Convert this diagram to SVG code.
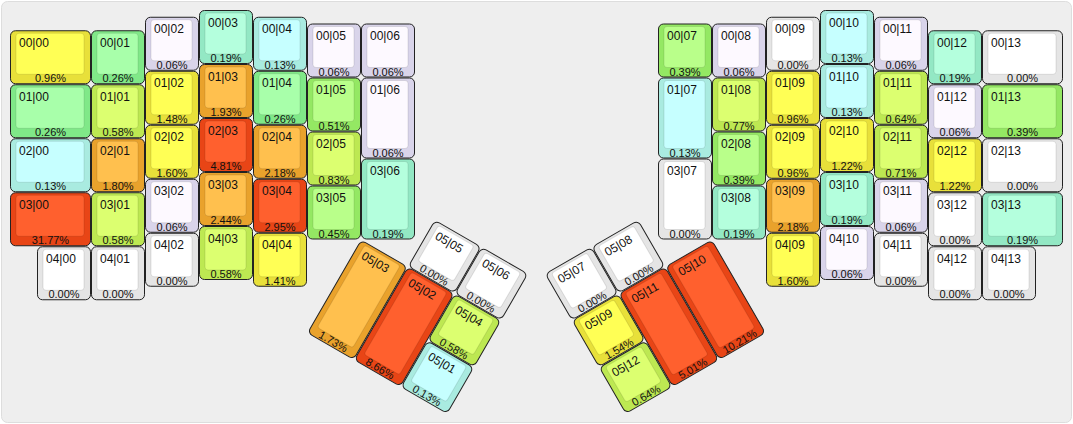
<svg xmlns="http://www.w3.org/2000/svg" width="1073" height="424" viewBox="0 0 1073 424">
<style>
text{font-family:"Liberation Sans",Arial,sans-serif;fill:#111}
.t{font-size:12px}
.b{font-size:11px;text-anchor:middle}
.o{stroke:#222;stroke-width:1}
.i{stroke:#000;stroke-opacity:0.1;stroke-width:1}
.w .o{fill:#e5e5e5}.w .i{fill:#ffffff}
.lv .o{fill:#d9d4ea}.lv .i{fill:#fdf9ff}
.cy .o{fill:#a9ebe0}.cy .i{fill:#c6ffff}
.mt .o{fill:#93e8c4}.mt .i{fill:#b4ffdd}
.gr .o{fill:#80e888}.gr .i{fill:#a8ffaa}
.lg .o{fill:#94e863}.lg .i{fill:#b9ff8a}
.yg .o{fill:#bde852}.yg .i{fill:#dcff70}
.ye .o{fill:#e8e03a}.ye .i{fill:#ffff55}
.or .o{fill:#e9a22c}.or .i{fill:#ffc04e}
.rd .o{fill:#e84516}.rd .i{fill:#ff602e}
</style>
<rect x="1.5" y="1.5" width="1070" height="421" rx="6" fill="#eeeeee" stroke="#dddddd"/>
<g id="left-main">
<g id="k00_00" class="ye" transform="translate(10,30.25)"><rect class="o" x="0.5" y="0.5" width="80" height="53" rx="5"/><rect class="i" x="6" y="3" width="68" height="41" rx="3"/><text class="t" x="9" y="16.5">00|00</text><text class="b" x="40.5" y="52">0.96%</text></g>
<g id="k01_00" class="gr" transform="translate(10,84.25)"><rect class="o" x="0.5" y="0.5" width="80" height="53" rx="5"/><rect class="i" x="6" y="3" width="68" height="41" rx="3"/><text class="t" x="9" y="16.5">01|00</text><text class="b" x="40.5" y="52">0.26%</text></g>
<g id="k02_00" class="cy" transform="translate(10,138.25)"><rect class="o" x="0.5" y="0.5" width="80" height="53" rx="5"/><rect class="i" x="6" y="3" width="68" height="41" rx="3"/><text class="t" x="9" y="16.5">02|00</text><text class="b" x="40.5" y="52">0.13%</text></g>
<g id="k03_00" class="rd" transform="translate(10,192.25)"><rect class="o" x="0.5" y="0.5" width="80" height="53" rx="5"/><rect class="i" x="6" y="3" width="68" height="41" rx="3"/><text class="t" x="9" y="16.5">03|00</text><text class="b" x="40.5" y="52">31.77%</text></g>
<g id="k04_00" class="w" transform="translate(37,246.25)"><rect class="o" x="0.5" y="0.5" width="53" height="53" rx="5"/><rect class="i" x="6" y="3" width="41" height="41" rx="3"/><text class="t" x="9" y="16.5">04|00</text><text class="b" x="27" y="52">0.00%</text></g>
<g id="k00_01" class="gr" transform="translate(91,30.25)"><rect class="o" x="0.5" y="0.5" width="53" height="53" rx="5"/><rect class="i" x="6" y="3" width="41" height="41" rx="3"/><text class="t" x="9" y="16.5">00|01</text><text class="b" x="27" y="52">0.26%</text></g>
<g id="k01_01" class="yg" transform="translate(91,84.25)"><rect class="o" x="0.5" y="0.5" width="53" height="53" rx="5"/><rect class="i" x="6" y="3" width="41" height="41" rx="3"/><text class="t" x="9" y="16.5">01|01</text><text class="b" x="27" y="52">0.58%</text></g>
<g id="k02_01" class="or" transform="translate(91,138.25)"><rect class="o" x="0.5" y="0.5" width="53" height="53" rx="5"/><rect class="i" x="6" y="3" width="41" height="41" rx="3"/><text class="t" x="9" y="16.5">02|01</text><text class="b" x="27" y="52">1.80%</text></g>
<g id="k03_01" class="yg" transform="translate(91,192.25)"><rect class="o" x="0.5" y="0.5" width="53" height="53" rx="5"/><rect class="i" x="6" y="3" width="41" height="41" rx="3"/><text class="t" x="9" y="16.5">03|01</text><text class="b" x="27" y="52">0.58%</text></g>
<g id="k04_01" class="w" transform="translate(91,246.25)"><rect class="o" x="0.5" y="0.5" width="53" height="53" rx="5"/><rect class="i" x="6" y="3" width="41" height="41" rx="3"/><text class="t" x="9" y="16.5">04|01</text><text class="b" x="27" y="52">0.00%</text></g>
<g id="k00_02" class="lv" transform="translate(145,16.75)"><rect class="o" x="0.5" y="0.5" width="53" height="53" rx="5"/><rect class="i" x="6" y="3" width="41" height="41" rx="3"/><text class="t" x="9" y="16.5">00|02</text><text class="b" x="27" y="52">0.06%</text></g>
<g id="k01_02" class="ye" transform="translate(145,70.75)"><rect class="o" x="0.5" y="0.5" width="53" height="53" rx="5"/><rect class="i" x="6" y="3" width="41" height="41" rx="3"/><text class="t" x="9" y="16.5">01|02</text><text class="b" x="27" y="52">1.48%</text></g>
<g id="k02_02" class="ye" transform="translate(145,124.75)"><rect class="o" x="0.5" y="0.5" width="53" height="53" rx="5"/><rect class="i" x="6" y="3" width="41" height="41" rx="3"/><text class="t" x="9" y="16.5">02|02</text><text class="b" x="27" y="52">1.60%</text></g>
<g id="k03_02" class="lv" transform="translate(145,178.75)"><rect class="o" x="0.5" y="0.5" width="53" height="53" rx="5"/><rect class="i" x="6" y="3" width="41" height="41" rx="3"/><text class="t" x="9" y="16.5">03|02</text><text class="b" x="27" y="52">0.06%</text></g>
<g id="k04_02" class="w" transform="translate(145,232.75)"><rect class="o" x="0.5" y="0.5" width="53" height="53" rx="5"/><rect class="i" x="6" y="3" width="41" height="41" rx="3"/><text class="t" x="9" y="16.5">04|02</text><text class="b" x="27" y="52">0.00%</text></g>
<g id="k00_03" class="mt" transform="translate(199,10)"><rect class="o" x="0.5" y="0.5" width="53" height="53" rx="5"/><rect class="i" x="6" y="3" width="41" height="41" rx="3"/><text class="t" x="9" y="16.5">00|03</text><text class="b" x="27" y="52">0.19%</text></g>
<g id="k01_03" class="or" transform="translate(199,64)"><rect class="o" x="0.5" y="0.5" width="53" height="53" rx="5"/><rect class="i" x="6" y="3" width="41" height="41" rx="3"/><text class="t" x="9" y="16.5">01|03</text><text class="b" x="27" y="52">1.93%</text></g>
<g id="k02_03" class="rd" transform="translate(199,118)"><rect class="o" x="0.5" y="0.5" width="53" height="53" rx="5"/><rect class="i" x="6" y="3" width="41" height="41" rx="3"/><text class="t" x="9" y="16.5">02|03</text><text class="b" x="27" y="52">4.81%</text></g>
<g id="k03_03" class="or" transform="translate(199,172)"><rect class="o" x="0.5" y="0.5" width="53" height="53" rx="5"/><rect class="i" x="6" y="3" width="41" height="41" rx="3"/><text class="t" x="9" y="16.5">03|03</text><text class="b" x="27" y="52">2.44%</text></g>
<g id="k04_03" class="yg" transform="translate(199,226)"><rect class="o" x="0.5" y="0.5" width="53" height="53" rx="5"/><rect class="i" x="6" y="3" width="41" height="41" rx="3"/><text class="t" x="9" y="16.5">04|03</text><text class="b" x="27" y="52">0.58%</text></g>
<g id="k00_04" class="cy" transform="translate(253,16.75)"><rect class="o" x="0.5" y="0.5" width="53" height="53" rx="5"/><rect class="i" x="6" y="3" width="41" height="41" rx="3"/><text class="t" x="9" y="16.5">00|04</text><text class="b" x="27" y="52">0.13%</text></g>
<g id="k01_04" class="gr" transform="translate(253,70.75)"><rect class="o" x="0.5" y="0.5" width="53" height="53" rx="5"/><rect class="i" x="6" y="3" width="41" height="41" rx="3"/><text class="t" x="9" y="16.5">01|04</text><text class="b" x="27" y="52">0.26%</text></g>
<g id="k02_04" class="or" transform="translate(253,124.75)"><rect class="o" x="0.5" y="0.5" width="53" height="53" rx="5"/><rect class="i" x="6" y="3" width="41" height="41" rx="3"/><text class="t" x="9" y="16.5">02|04</text><text class="b" x="27" y="52">2.18%</text></g>
<g id="k03_04" class="rd" transform="translate(253,178.75)"><rect class="o" x="0.5" y="0.5" width="53" height="53" rx="5"/><rect class="i" x="6" y="3" width="41" height="41" rx="3"/><text class="t" x="9" y="16.5">03|04</text><text class="b" x="27" y="52">2.95%</text></g>
<g id="k04_04" class="ye" transform="translate(253,232.75)"><rect class="o" x="0.5" y="0.5" width="53" height="53" rx="5"/><rect class="i" x="6" y="3" width="41" height="41" rx="3"/><text class="t" x="9" y="16.5">04|04</text><text class="b" x="27" y="52">1.41%</text></g>
<g id="k00_05" class="lv" transform="translate(307,23.5)"><rect class="o" x="0.5" y="0.5" width="53" height="53" rx="5"/><rect class="i" x="6" y="3" width="41" height="41" rx="3"/><text class="t" x="9" y="16.5">00|05</text><text class="b" x="27" y="52">0.06%</text></g>
<g id="k01_05" class="lg" transform="translate(307,77.5)"><rect class="o" x="0.5" y="0.5" width="53" height="53" rx="5"/><rect class="i" x="6" y="3" width="41" height="41" rx="3"/><text class="t" x="9" y="16.5">01|05</text><text class="b" x="27" y="52">0.51%</text></g>
<g id="k02_05" class="yg" transform="translate(307,131.5)"><rect class="o" x="0.5" y="0.5" width="53" height="53" rx="5"/><rect class="i" x="6" y="3" width="41" height="41" rx="3"/><text class="t" x="9" y="16.5">02|05</text><text class="b" x="27" y="52">0.83%</text></g>
<g id="k03_05" class="lg" transform="translate(307,185.5)"><rect class="o" x="0.5" y="0.5" width="53" height="53" rx="5"/><rect class="i" x="6" y="3" width="41" height="41" rx="3"/><text class="t" x="9" y="16.5">03|05</text><text class="b" x="27" y="52">0.45%</text></g>
<g id="k00_06" class="lv" transform="translate(361,23.5)"><rect class="o" x="0.5" y="0.5" width="53" height="53" rx="5"/><rect class="i" x="6" y="3" width="41" height="41" rx="3"/><text class="t" x="9" y="16.5">00|06</text><text class="b" x="27" y="52">0.06%</text></g>
<g id="k01_06" class="lv" transform="translate(361,77.5)"><rect class="o" x="0.5" y="0.5" width="53" height="80" rx="5"/><rect class="i" x="6" y="3" width="41" height="68" rx="3"/><text class="t" x="9" y="16.5">01|06</text><text class="b" x="27" y="79">0.06%</text></g>
<g id="k03_06" class="mt" transform="translate(361,158.5)"><rect class="o" x="0.5" y="0.5" width="53" height="80" rx="5"/><rect class="i" x="6" y="3" width="41" height="68" rx="3"/><text class="t" x="9" y="16.5">03|06</text><text class="b" x="27" y="79">0.19%</text></g>
</g>
<g id="left-thumb" transform="translate(361,239.5) rotate(30)">
<g id="k05_03" class="or" transform="translate(0,0)"><rect class="o" x="0.5" y="0.5" width="53" height="107" rx="5"/><rect class="i" x="6" y="3" width="41" height="95" rx="3"/><text class="t" x="9" y="16.5">05|03</text><text class="b" x="27" y="106">1.73%</text></g>
<g id="k05_02" class="rd" transform="translate(54,0)"><rect class="o" x="0.5" y="0.5" width="53" height="107" rx="5"/><rect class="i" x="6" y="3" width="41" height="95" rx="3"/><text class="t" x="9" y="16.5">05|02</text><text class="b" x="27" y="106">8.66%</text></g>
<g id="k05_05" class="w" transform="translate(54,-54)"><rect class="o" x="0.5" y="0.5" width="53" height="53" rx="5"/><rect class="i" x="6" y="3" width="41" height="41" rx="3"/><text class="t" x="9" y="16.5">05|05</text><text class="b" x="27" y="52">0.00%</text></g>
<g id="k05_06" class="w" transform="translate(108,-54)"><rect class="o" x="0.5" y="0.5" width="53" height="53" rx="5"/><rect class="i" x="6" y="3" width="41" height="41" rx="3"/><text class="t" x="9" y="16.5">05|06</text><text class="b" x="27" y="52">0.00%</text></g>
<g id="k05_04" class="yg" transform="translate(108,0)"><rect class="o" x="0.5" y="0.5" width="53" height="53" rx="5"/><rect class="i" x="6" y="3" width="41" height="41" rx="3"/><text class="t" x="9" y="16.5">05|04</text><text class="b" x="27" y="52">0.58%</text></g>
<g id="k05_01" class="cy" transform="translate(108,54)"><rect class="o" x="0.5" y="0.5" width="53" height="53" rx="5"/><rect class="i" x="6" y="3" width="41" height="41" rx="3"/><text class="t" x="9" y="16.5">05|01</text><text class="b" x="27" y="52">0.13%</text></g>
</g>
<g id="right-main">
<g id="k00_07" class="lg" transform="translate(658,23.5)"><rect class="o" x="0.5" y="0.5" width="53" height="53" rx="5"/><rect class="i" x="6" y="3" width="41" height="41" rx="3"/><text class="t" x="9" y="16.5">00|07</text><text class="b" x="27" y="52">0.39%</text></g>
<g id="k01_07" class="cy" transform="translate(658,77.5)"><rect class="o" x="0.5" y="0.5" width="53" height="80" rx="5"/><rect class="i" x="6" y="3" width="41" height="68" rx="3"/><text class="t" x="9" y="16.5">01|07</text><text class="b" x="27" y="79">0.13%</text></g>
<g id="k03_07" class="w" transform="translate(658,158.5)"><rect class="o" x="0.5" y="0.5" width="53" height="80" rx="5"/><rect class="i" x="6" y="3" width="41" height="68" rx="3"/><text class="t" x="9" y="16.5">03|07</text><text class="b" x="27" y="79">0.00%</text></g>
<g id="k00_08" class="lv" transform="translate(712,23.5)"><rect class="o" x="0.5" y="0.5" width="53" height="53" rx="5"/><rect class="i" x="6" y="3" width="41" height="41" rx="3"/><text class="t" x="9" y="16.5">00|08</text><text class="b" x="27" y="52">0.06%</text></g>
<g id="k01_08" class="yg" transform="translate(712,77.5)"><rect class="o" x="0.5" y="0.5" width="53" height="53" rx="5"/><rect class="i" x="6" y="3" width="41" height="41" rx="3"/><text class="t" x="9" y="16.5">01|08</text><text class="b" x="27" y="52">0.77%</text></g>
<g id="k02_08" class="lg" transform="translate(712,131.5)"><rect class="o" x="0.5" y="0.5" width="53" height="53" rx="5"/><rect class="i" x="6" y="3" width="41" height="41" rx="3"/><text class="t" x="9" y="16.5">02|08</text><text class="b" x="27" y="52">0.39%</text></g>
<g id="k03_08" class="mt" transform="translate(712,185.5)"><rect class="o" x="0.5" y="0.5" width="53" height="53" rx="5"/><rect class="i" x="6" y="3" width="41" height="41" rx="3"/><text class="t" x="9" y="16.5">03|08</text><text class="b" x="27" y="52">0.19%</text></g>
<g id="k00_09" class="w" transform="translate(766,16.75)"><rect class="o" x="0.5" y="0.5" width="53" height="53" rx="5"/><rect class="i" x="6" y="3" width="41" height="41" rx="3"/><text class="t" x="9" y="16.5">00|09</text><text class="b" x="27" y="52">0.00%</text></g>
<g id="k01_09" class="ye" transform="translate(766,70.75)"><rect class="o" x="0.5" y="0.5" width="53" height="53" rx="5"/><rect class="i" x="6" y="3" width="41" height="41" rx="3"/><text class="t" x="9" y="16.5">01|09</text><text class="b" x="27" y="52">0.96%</text></g>
<g id="k02_09" class="ye" transform="translate(766,124.75)"><rect class="o" x="0.5" y="0.5" width="53" height="53" rx="5"/><rect class="i" x="6" y="3" width="41" height="41" rx="3"/><text class="t" x="9" y="16.5">02|09</text><text class="b" x="27" y="52">0.96%</text></g>
<g id="k03_09" class="or" transform="translate(766,178.75)"><rect class="o" x="0.5" y="0.5" width="53" height="53" rx="5"/><rect class="i" x="6" y="3" width="41" height="41" rx="3"/><text class="t" x="9" y="16.5">03|09</text><text class="b" x="27" y="52">2.18%</text></g>
<g id="k04_09" class="ye" transform="translate(766,232.75)"><rect class="o" x="0.5" y="0.5" width="53" height="53" rx="5"/><rect class="i" x="6" y="3" width="41" height="41" rx="3"/><text class="t" x="9" y="16.5">04|09</text><text class="b" x="27" y="52">1.60%</text></g>
<g id="k00_10" class="cy" transform="translate(820,10)"><rect class="o" x="0.5" y="0.5" width="53" height="53" rx="5"/><rect class="i" x="6" y="3" width="41" height="41" rx="3"/><text class="t" x="9" y="16.5">00|10</text><text class="b" x="27" y="52">0.13%</text></g>
<g id="k01_10" class="cy" transform="translate(820,64)"><rect class="o" x="0.5" y="0.5" width="53" height="53" rx="5"/><rect class="i" x="6" y="3" width="41" height="41" rx="3"/><text class="t" x="9" y="16.5">01|10</text><text class="b" x="27" y="52">0.13%</text></g>
<g id="k02_10" class="ye" transform="translate(820,118)"><rect class="o" x="0.5" y="0.5" width="53" height="53" rx="5"/><rect class="i" x="6" y="3" width="41" height="41" rx="3"/><text class="t" x="9" y="16.5">02|10</text><text class="b" x="27" y="52">1.22%</text></g>
<g id="k03_10" class="mt" transform="translate(820,172)"><rect class="o" x="0.5" y="0.5" width="53" height="53" rx="5"/><rect class="i" x="6" y="3" width="41" height="41" rx="3"/><text class="t" x="9" y="16.5">03|10</text><text class="b" x="27" y="52">0.19%</text></g>
<g id="k04_10" class="lv" transform="translate(820,226)"><rect class="o" x="0.5" y="0.5" width="53" height="53" rx="5"/><rect class="i" x="6" y="3" width="41" height="41" rx="3"/><text class="t" x="9" y="16.5">04|10</text><text class="b" x="27" y="52">0.06%</text></g>
<g id="k00_11" class="lv" transform="translate(874,16.75)"><rect class="o" x="0.5" y="0.5" width="53" height="53" rx="5"/><rect class="i" x="6" y="3" width="41" height="41" rx="3"/><text class="t" x="9" y="16.5">00|11</text><text class="b" x="27" y="52">0.06%</text></g>
<g id="k01_11" class="yg" transform="translate(874,70.75)"><rect class="o" x="0.5" y="0.5" width="53" height="53" rx="5"/><rect class="i" x="6" y="3" width="41" height="41" rx="3"/><text class="t" x="9" y="16.5">01|11</text><text class="b" x="27" y="52">0.64%</text></g>
<g id="k02_11" class="yg" transform="translate(874,124.75)"><rect class="o" x="0.5" y="0.5" width="53" height="53" rx="5"/><rect class="i" x="6" y="3" width="41" height="41" rx="3"/><text class="t" x="9" y="16.5">02|11</text><text class="b" x="27" y="52">0.71%</text></g>
<g id="k03_11" class="lv" transform="translate(874,178.75)"><rect class="o" x="0.5" y="0.5" width="53" height="53" rx="5"/><rect class="i" x="6" y="3" width="41" height="41" rx="3"/><text class="t" x="9" y="16.5">03|11</text><text class="b" x="27" y="52">0.06%</text></g>
<g id="k04_11" class="w" transform="translate(874,232.75)"><rect class="o" x="0.5" y="0.5" width="53" height="53" rx="5"/><rect class="i" x="6" y="3" width="41" height="41" rx="3"/><text class="t" x="9" y="16.5">04|11</text><text class="b" x="27" y="52">0.00%</text></g>
<g id="k00_12" class="mt" transform="translate(928,30.25)"><rect class="o" x="0.5" y="0.5" width="53" height="53" rx="5"/><rect class="i" x="6" y="3" width="41" height="41" rx="3"/><text class="t" x="9" y="16.5">00|12</text><text class="b" x="27" y="52">0.19%</text></g>
<g id="k01_12" class="lv" transform="translate(928,84.25)"><rect class="o" x="0.5" y="0.5" width="53" height="53" rx="5"/><rect class="i" x="6" y="3" width="41" height="41" rx="3"/><text class="t" x="9" y="16.5">01|12</text><text class="b" x="27" y="52">0.06%</text></g>
<g id="k02_12" class="ye" transform="translate(928,138.25)"><rect class="o" x="0.5" y="0.5" width="53" height="53" rx="5"/><rect class="i" x="6" y="3" width="41" height="41" rx="3"/><text class="t" x="9" y="16.5">02|12</text><text class="b" x="27" y="52">1.22%</text></g>
<g id="k03_12" class="w" transform="translate(928,192.25)"><rect class="o" x="0.5" y="0.5" width="53" height="53" rx="5"/><rect class="i" x="6" y="3" width="41" height="41" rx="3"/><text class="t" x="9" y="16.5">03|12</text><text class="b" x="27" y="52">0.00%</text></g>
<g id="k04_12" class="w" transform="translate(928,246.25)"><rect class="o" x="0.5" y="0.5" width="53" height="53" rx="5"/><rect class="i" x="6" y="3" width="41" height="41" rx="3"/><text class="t" x="9" y="16.5">04|12</text><text class="b" x="27" y="52">0.00%</text></g>
<g id="k00_13" class="w" transform="translate(982,30.25)"><rect class="o" x="0.5" y="0.5" width="80" height="53" rx="5"/><rect class="i" x="6" y="3" width="68" height="41" rx="3"/><text class="t" x="9" y="16.5">00|13</text><text class="b" x="40.5" y="52">0.00%</text></g>
<g id="k01_13" class="lg" transform="translate(982,84.25)"><rect class="o" x="0.5" y="0.5" width="80" height="53" rx="5"/><rect class="i" x="6" y="3" width="68" height="41" rx="3"/><text class="t" x="9" y="16.5">01|13</text><text class="b" x="40.5" y="52">0.39%</text></g>
<g id="k02_13" class="w" transform="translate(982,138.25)"><rect class="o" x="0.5" y="0.5" width="80" height="53" rx="5"/><rect class="i" x="6" y="3" width="68" height="41" rx="3"/><text class="t" x="9" y="16.5">02|13</text><text class="b" x="40.5" y="52">0.00%</text></g>
<g id="k03_13" class="mt" transform="translate(982,192.25)"><rect class="o" x="0.5" y="0.5" width="80" height="53" rx="5"/><rect class="i" x="6" y="3" width="68" height="41" rx="3"/><text class="t" x="9" y="16.5">03|13</text><text class="b" x="40.5" y="52">0.19%</text></g>
<g id="k04_13" class="w" transform="translate(982,246.25)"><rect class="o" x="0.5" y="0.5" width="53" height="53" rx="5"/><rect class="i" x="6" y="3" width="41" height="41" rx="3"/><text class="t" x="9" y="16.5">04|13</text><text class="b" x="27" y="52">0.00%</text></g>
</g>
<g id="right-thumb" transform="translate(712,239.5) rotate(-30)">
<g id="k05_07" class="w" transform="translate(-162,-54)"><rect class="o" x="0.5" y="0.5" width="53" height="53" rx="5"/><rect class="i" x="6" y="3" width="41" height="41" rx="3"/><text class="t" x="9" y="16.5">05|07</text><text class="b" x="27" y="52">0.00%</text></g>
<g id="k05_08" class="w" transform="translate(-108,-54)"><rect class="o" x="0.5" y="0.5" width="53" height="53" rx="5"/><rect class="i" x="6" y="3" width="41" height="41" rx="3"/><text class="t" x="9" y="16.5">05|08</text><text class="b" x="27" y="52">0.00%</text></g>
<g id="k05_09" class="ye" transform="translate(-162,0)"><rect class="o" x="0.5" y="0.5" width="53" height="53" rx="5"/><rect class="i" x="6" y="3" width="41" height="41" rx="3"/><text class="t" x="9" y="16.5">05|09</text><text class="b" x="27" y="52">1.54%</text></g>
<g id="k05_11" class="rd" transform="translate(-108,0)"><rect class="o" x="0.5" y="0.5" width="53" height="107" rx="5"/><rect class="i" x="6" y="3" width="41" height="95" rx="3"/><text class="t" x="9" y="16.5">05|11</text><text class="b" x="27" y="106">5.01%</text></g>
<g id="k05_10" class="rd" transform="translate(-54,0)"><rect class="o" x="0.5" y="0.5" width="53" height="107" rx="5"/><rect class="i" x="6" y="3" width="41" height="95" rx="3"/><text class="t" x="9" y="16.5">05|10</text><text class="b" x="27" y="106">10.21%</text></g>
<g id="k05_12" class="yg" transform="translate(-162,54)"><rect class="o" x="0.5" y="0.5" width="53" height="53" rx="5"/><rect class="i" x="6" y="3" width="41" height="41" rx="3"/><text class="t" x="9" y="16.5">05|12</text><text class="b" x="27" y="52">0.64%</text></g>
</g>
</svg>
